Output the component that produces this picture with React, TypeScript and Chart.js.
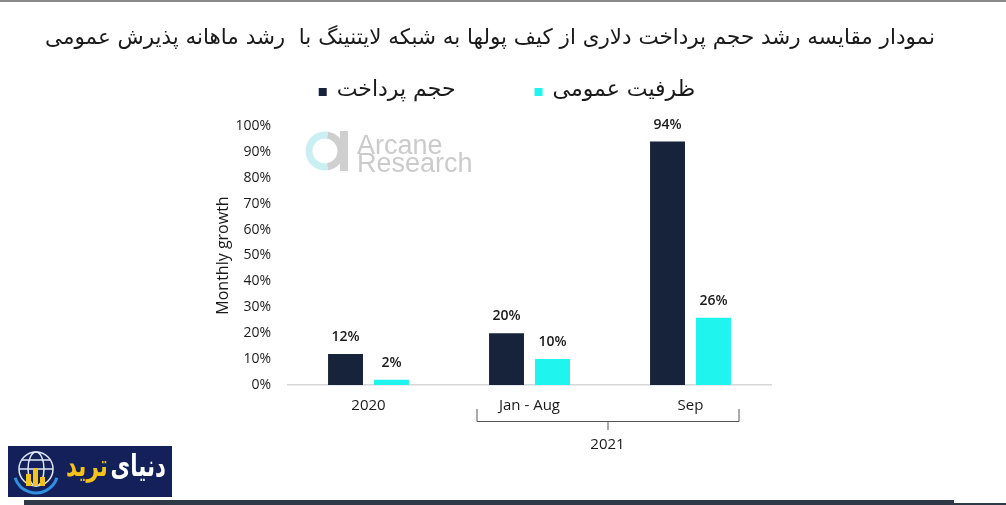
import React, { useEffect, useRef } from "react";
import { Chart, registerables } from "chart.js";

Chart.register(...registerables);

// ---- data ----
const categories = ["2020", "Jan - Aug", "Sep"];
const paymentVolume = [12, 20, 94];
const publicCapacity = [2, 10, 26];
const seriesNames = ["حجم پرداخت", "ظرفیت عمومی"];
const groupLabel = "2021";
const groupStart = 1;
const groupEnd = 2;
const yMax = 100;
const yStep = 10;
const yTitle = "Monthly growth";
const chartTitle =
  "نمودار مقایسه رشد حجم پرداخت دلاری از کیف پولها به شبکه لایتنینگ با  رشد ماهانه پذیرش عمومی";
const watermarkLines = ["Arcane", "Research"];
const brandWords = ["دنیای", "ترید"];

const DARK = "#17233a";
const CYAN = "#1ff4ef";
const TEXT = "#1a1a1a";
const LATIN = "'Open Sans', 'Noto Sans', sans-serif";
const PERSIAN = "'DejaVu Sans', 'Noto Sans', sans-serif";

const valueLabels = {
  id: "valueLabels",
  afterDatasetsDraw(chart: any) {
    const ctx = chart.ctx;
    ctx.save();
    ctx.font = `600 14px ${LATIN}`;
    ctx.fillStyle = TEXT;
    ctx.textAlign = "center";
    ctx.textBaseline = "middle";
    chart.data.datasets.forEach((ds: any, di: number) => {
      const meta = chart.getDatasetMeta(di);
      meta.data.forEach((bar: any, i: number) => {
        ctx.fillText(ds.data[i] + "%", bar.x, bar.y - 17);
      });
    });
    ctx.restore();
  },
};

const titleAndLegend = {
  id: "titleAndLegend",
  afterDraw(chart: any) {
    const ctx = chart.ctx;
    ctx.save();
    // title: fitted to the reference's text span
    ctx.font = `20px ${PERSIAN}`;
    const w20 = ctx.measureText(chartTitle).width;
    const size = Math.min(30, Math.max(16, (20 * 890) / w20));
    ctx.font = `${size}px ${PERSIAN}`;
    ctx.fillStyle = TEXT;
    ctx.textAlign = "center";
    ctx.textBaseline = "middle";
    ctx.fillText(chartTitle, 490, 38);

    // legend
    ctx.font = `22px ${PERSIAN}`;
    ctx.textBaseline = "middle";
    ctx.textAlign = "left";
    const box = 8;
    const gapText = 10;
    const gapItems = 79;
    const items = chart.data.datasets.map((ds: any) => ({
      text: ds.label,
      color: ds.backgroundColor,
      w: ctx.measureText(ds.label).width,
    }));
    let total = 0;
    items.forEach((it: any, i: number) => {
      total += box + gapText + it.w + (i > 0 ? gapItems : 0);
    });
    let x = 507 - total / 2;
    const y = 90;
    items.forEach((it: any) => {
      ctx.fillStyle = it.color;
      ctx.fillRect(x, y - 2, box, box);
      ctx.fillStyle = TEXT;
      ctx.fillText(it.text, x + box + gapText, y);
      x += box + gapText + it.w + gapItems;
    });
    ctx.restore();
  },
};

const groupBracket = {
  id: "groupBracket",
  afterDraw(chart: any) {
    const ctx = chart.ctx;
    const xs = chart.scales.x;
    const area = chart.chartArea;
    const x1 = xs.getPixelForValue(groupStart) - 53;
    const x2 = xs.getPixelForValue(groupEnd) + 48;
    const yLine = area.bottom + 36;
    const mid = (x1 + x2) / 2;
    ctx.save();
    ctx.strokeStyle = "#555";
    ctx.lineWidth = 1;
    ctx.beginPath();
    ctx.moveTo(x1 + 0.5, yLine - 12);
    ctx.lineTo(x1 + 0.5, yLine + 0.5);
    ctx.lineTo(x2 + 0.5, yLine + 0.5);
    ctx.lineTo(x2 + 0.5, yLine - 12);
    ctx.moveTo(mid + 0.5, yLine);
    ctx.lineTo(mid + 0.5, yLine + 9);
    ctx.stroke();
    ctx.font = `15px ${LATIN}`;
    ctx.fillStyle = TEXT;
    ctx.textAlign = "center";
    ctx.textBaseline = "middle";
    ctx.fillText(groupLabel, mid, yLine + 24);
    ctx.restore();
  },
};

const decorations = {
  id: "decorations",
  beforeDatasetsDraw(chart: any) {
    const ctx = chart.ctx;
    ctx.save();
    // watermark logo
    ctx.lineWidth = 7;
    ctx.strokeStyle = "#c9eff3";
    ctx.beginPath();
    ctx.arc(325, 151, 16, Math.PI * 0.45, Math.PI * 1.55);
    ctx.stroke();
    ctx.strokeStyle = "#cfcfcf";
    ctx.beginPath();
    ctx.arc(325, 151, 16, Math.PI * 1.55, Math.PI * 0.45 + Math.PI * 2);
    ctx.stroke();
    ctx.fillStyle = "#cfcfcf";
    ctx.fillRect(340, 131, 8, 40);
    ctx.font = `27px 'Liberation Sans', Arial, sans-serif`;
    ctx.fillStyle = "#cbcbcb";
    ctx.textAlign = "left";
    ctx.textBaseline = "alphabetic";
    ctx.fillText(watermarkLines[0], 357, 154);
    ctx.fillText(watermarkLines[1], 357, 172);
    ctx.restore();
  },
  afterDraw(chart: any) {
    const ctx = chart.ctx;
    ctx.save();
    // frame lines
    ctx.fillStyle = "#8a8a8a";
    ctx.fillRect(0, 0, 1006, 2);
    ctx.fillStyle = "#2e3846";
    ctx.fillRect(24, 500, 930, 5);
    ctx.fillRect(954, 503, 52, 2);
    // brand box
    ctx.fillStyle = "#13205a";
    ctx.fillRect(8, 446, 164, 51);
    // globe
    ctx.strokeStyle = "#dfe6f5";
    ctx.lineWidth = 1.5;
    ctx.beginPath();
    ctx.arc(36, 469, 17, 0, Math.PI * 2);
    ctx.stroke();
    ctx.beginPath();
    ctx.ellipse(36, 469, 8, 17, 0, 0, Math.PI * 2);
    ctx.moveTo(19, 469);
    ctx.lineTo(53, 469);
    ctx.moveTo(22, 460);
    ctx.lineTo(50, 460);
    ctx.stroke();
    ctx.strokeStyle = "#2f8fe0";
    ctx.lineWidth = 3;
    ctx.beginPath();
    ctx.arc(36, 471, 22, Math.PI * 0.1, Math.PI * 0.9);
    ctx.stroke();
    ctx.fillStyle = "#f3c21b";
    ctx.fillRect(26, 474, 5, 12);
    ctx.fillRect(33, 468, 5, 18);
    ctx.fillRect(40, 477, 5, 9);
    // brand text (condensed)
    ctx.font = `bold 30px ${PERSIAN}`;
    ctx.textBaseline = "middle";
    ctx.textAlign = "right";
    const w0 = ctx.measureText(brandWords[0]).width;
    const w1 = ctx.measureText(brandWords[1]).width;
    const sx = 100 / (w0 + w1 + 4);
    ctx.translate(166, 468);
    ctx.scale(sx, 1);
    ctx.fillStyle = "#ffffff";
    ctx.fillText(brandWords[0], 0, 0);
    ctx.fillStyle = "#f3c21b";
    ctx.fillText(brandWords[1], -w0 - 4, 0);
    ctx.restore();
  },
};

export default function App() {
  const ref = useRef<HTMLCanvasElement>(null);

  useEffect(() => {
    if (!ref.current) return;
    const chart = new Chart(ref.current, {
      type: "bar",
      data: {
        labels: categories,
        datasets: [
          {
            label: seriesNames[0],
            data: paymentVolume,
            backgroundColor: DARK,
            barPercentage: 0.76,
            categoryPercentage: 0.571,
          },
          {
            label: seriesNames[1],
            data: publicCapacity,
            backgroundColor: CYAN,
            barPercentage: 0.76,
            categoryPercentage: 0.571,
          },
        ],
      },
      options: {
        responsive: false,
        animation: false,
        devicePixelRatio: 1,
        layout: { padding: { left: 214, right: 235, top: 126, bottom: 90 } },
        plugins: {
          title: { display: false },
          legend: { display: false },
          tooltip: { enabled: false },
        },
        scales: {
          x: {
            grid: { display: false, drawTicks: false },
            border: { display: true, color: "#d6d6d6", width: 1.5 },
            ticks: {
              color: TEXT,
              font: { family: LATIN, size: 15 },
              padding: 12,
            },
            afterFit(scale: any) {
              scale.height = 30;
            },
          },
          y: {
            min: 0,
            max: yMax,
            grid: { display: false, drawTicks: false },
            border: { display: false },
            ticks: {
              stepSize: yStep,
              color: TEXT,
              font: { family: LATIN, size: 14 },
              padding: 17,
              callback: (v: any) => v + "%",
            },
            title: {
              display: true,
              text: yTitle,
              color: TEXT,
              font: { family: LATIN, size: 16 },
              padding: { top: 0, bottom: 0 },
            },
            afterFit(scale: any) {
              scale.width = 74;
            },
          },
        },
      },
      plugins: [decorations, valueLabels, titleAndLegend, groupBracket],
    });
    return () => chart.destroy();
  }, []);

  return (
    <div style={{ position: "fixed", left: 0, top: 0, width: 1006, height: 505, background: "#fff" }}>
      <canvas ref={ref} width={1006} height={505} style={{ display: "block" }} />
    </div>
  );
}
